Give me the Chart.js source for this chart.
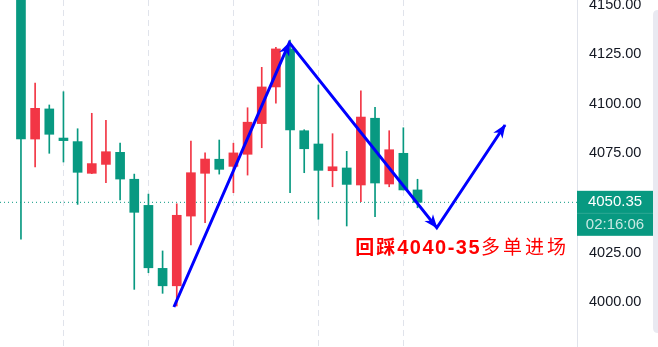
<!DOCTYPE html>
<html>
<head>
<meta charset="utf-8">
<script src="https://cdn.jsdelivr.net/npm/chart.js@4"></script>
<style>
html,body{margin:0;padding:0;background:#fff;}
#wrap{width:658px;height:347px;position:relative;}
</style>
</head>
<body>
<div id="wrap"><canvas id="c"></canvas></div>
<script>
// ---- data ----
const opens  = [4160.0,4082.3,4097.5,4082.8,4081.0,4065.0,4069.5,4075.6,4062.0,4048.8,4017.0,4008.2,4043.4,4065.0,4072.1,4068.5,4074.6,4090.1,4108.6,4127.8,4086.5,4079.8,4066.3,4067.7,4059.1,4092.8,4059.6,4075.1,4056.6];
const highs  = [4165.0,4110.6,4099.5,4106.2,4087.5,4095.3,4091.8,4080.2,4064.6,4054.5,4025.8,4049.6,4081.3,4075.3,4081.8,4080.2,4098.1,4118.5,4128.6,4132.3,4087.0,4109.6,4085.0,4076.1,4106.7,4098.3,4086.5,4088.0,4062.0];
const lows   = [4031.8,4068.2,4075.1,4070.7,4049.3,4064.8,4060.3,4051.5,4006.4,4014.8,4004.4,3998.0,4028.8,4040.1,4064.6,4055.2,4064.1,4077.9,4100.4,4055.2,4065.3,4041.8,4058.2,4038.4,4050.7,4043.1,4058.2,4056.6,4047.6];
const closes = [4082.3,4097.8,4084.7,4081.5,4065.5,4069.9,4075.9,4062.1,4045.3,4017.3,4008.2,4043.8,4065.3,4072.2,4067.0,4075.3,4090.8,4108.6,4127.8,4086.9,4077.4,4066.5,4068.3,4059.4,4093.4,4060.1,4076.9,4056.6,4050.35];
const lastPrice = 4050.35;
const countdown = "02:16:06";
const yTickValues = [4000,4025,4050,4075,4100,4125,4150];
const timeGridIdx = [3,9,15,21,27];
// hand-drawn arrow path (bar index, price)
const arrowX = [10.8, 18.95, 29.36, 34.18];
const arrowY = [3997.5, 4131.0, 4037.5, 4089.4];
const noteParts = ["回踩", "4040-35", "多单进场"];
const noteAt = {x: 23.6, y: 4024.2};

// ---- styles ----
const UP = '#f23645', DOWN = '#089981';
const X_MIN = -1.48, X_MAX = 39.26, Y_MIN = 3977.3, Y_MAX = 4152.5;

const idx = opens.map((_, i) => i);
const candleColor = idx.map(i => closes[i] >= opens[i] ? UP : DOWN);

function zeroPad(s) { s.paddingTop = 0; s.paddingBottom = 0; s.paddingLeft = 0; s.paddingRight = 0; }

const extras = {
  id: 'extras',
  afterDatasetsDraw(chart) {
    const ctx = chart.ctx;
    const xs = chart.scales.x, ys = chart.scales.y;
    // arrowheads
    const meta = chart.getDatasetMeta(2);
    const pts = meta.data;
    ctx.save();
    ctx.fillStyle = '#0000ff';
    for (let i = 1; i < pts.length; i++) {
      const a = pts[i-1], b = pts[i];
      const ang = Math.atan2(b.y - a.y, b.x - a.x);
      const L = 13, W = 5.5;
      ctx.beginPath();
      ctx.moveTo(b.x + Math.cos(ang)*1, b.y + Math.sin(ang)*1);
      ctx.lineTo(b.x - L*Math.cos(ang) + W*Math.sin(ang), b.y - L*Math.sin(ang) - W*Math.cos(ang));
      ctx.lineTo(b.x - (L-4)*Math.cos(ang), b.y - (L-4)*Math.sin(ang));
      ctx.lineTo(b.x - L*Math.cos(ang) - W*Math.sin(ang), b.y - L*Math.sin(ang) + W*Math.cos(ang));
      ctx.closePath();
      ctx.fill();
    }
    // note text
    let tx = xs.getPixelForValue(noteAt.x);
    const ty = ys.getPixelForValue(noteAt.y);
    ctx.fillStyle = '#ff0000';
    ctx.textBaseline = 'alphabetic';
    ctx.textAlign = 'left';
    const fonts = [
      ['bold 19px "Noto Sans CJK SC"', '2px'],
      ['bold 20px "Liberation Sans"', '1.5px'],
      ['19px "Noto Sans CJK SC"', '3px']
    ];
    noteParts.forEach((s, k) => {
      ctx.font = fonts[k][0];
      try { ctx.letterSpacing = fonts[k][1]; } catch(e) {}
      ctx.fillText(s, tx, ty);
      tx += ctx.measureText(s).width;
    });
    try { ctx.letterSpacing = '0px'; } catch(e) {}
    ctx.restore();
  },
  afterDraw(chart) {
    const ctx = chart.ctx;
    const ys = chart.scales.y;
    const ca = chart.chartArea;
    const py = ys.getPixelForValue(lastPrice);
    const left = ca.right, right = chart.width - 5;
    ctx.save();
    // scrollbar-like strip at the far right
    ctx.fillStyle = '#e9e9f1';
    const sx = chart.width - 5, sTop = 10, sBot = chart.height - 14;
    ctx.beginPath();
    ctx.moveTo(sx, sTop + 5);
    ctx.quadraticCurveTo(sx, sTop, sx + 5, sTop);
    ctx.lineTo(chart.width, sTop);
    ctx.lineTo(chart.width, sBot);
    ctx.lineTo(sx + 5, sBot);
    ctx.quadraticCurveTo(sx, sBot, sx, sBot - 5);
    ctx.closePath();
    ctx.fill();
    // price label box
    const top = py - 11.5, h = 45;
    ctx.fillStyle = DOWN;
    ctx.fillRect(left, top, right - left, h);
    ctx.fillStyle = 'rgba(255,255,255,0.15)';
    ctx.fillRect(left, top + 22, right - left, 1);
    ctx.textAlign = 'center';
    ctx.textBaseline = 'middle';
    ctx.font = '15px "Liberation Sans"';
    ctx.fillStyle = '#ffffff';
    ctx.fillText(lastPrice.toFixed(2), (left + right) / 2, top + 11.5);
    ctx.fillStyle = 'rgba(255,255,255,0.78)';
    ctx.fillText(countdown, (left + right) / 2, top + 34);
    ctx.restore();
  }
};

new Chart(document.getElementById('c'), {
  type: 'bar',
  data: {
    datasets: [
      {
        label: 'wick',
        data: idx.map(i => ({x: i, y: [lows[i], highs[i]]})),
        backgroundColor: candleColor,
        barThickness: 1,
        grouped: false,
        order: 2
      },
      {
        label: 'body',
        data: idx.map(i => ({x: i, y: [opens[i], closes[i]]})),
        backgroundColor: candleColor,
        barThickness: 9,
        minBarLength: 1,
        grouped: false,
        order: 1
      },
      {
        type: 'line',
        label: 'arrow',
        data: arrowX.map((x, i) => ({x, y: arrowY[i]})),
        borderColor: '#0000ff',
        borderWidth: 3,
        pointRadius: 0,
        tension: 0,
        order: 0
      },
      {
        type: 'line',
        label: 'price',
        data: [{x: X_MIN, y: lastPrice}, {x: X_MAX, y: lastPrice}],
        borderColor: DOWN,
        borderWidth: 1,
        borderDash: [1, 3],
        pointRadius: 0,
        order: 3
      }
    ]
  },
  options: {
    responsive: true,
    maintainAspectRatio: false,
    animation: false,
    events: [],
    layout: {padding: 0},
    plugins: {legend: {display: false}, tooltip: {enabled: false}},
    scales: {
      x: {
        type: 'linear',
        min: X_MIN, max: X_MAX,
        offset: false,
        afterBuildTicks(s) { s.ticks = timeGridIdx.map(v => ({value: v})); },
        afterFit(s) { s.height = 0; zeroPad(s); },
        ticks: {display: false},
        grid: {display: true, color: '#e0e3eb', lineWidth: 1, drawTicks: false, offset: false},
        border: {display: false, dash: [6, 4]}
      },
      y: {
        position: 'right',
        min: Y_MIN, max: Y_MAX,
        afterBuildTicks(s) { s.ticks = yTickValues.map(v => ({value: v})); },
        afterFit(s) { s.width = 81; zeroPad(s); },
        grid: {display: false, drawTicks: false},
        border: {display: true, color: '#e0e3eb'},
        ticks: {
          padding: 12,
          color: '#131722',
          font: {family: '"Liberation Sans"', size: 14.5},
          callback: v => Number(v).toFixed(2)
        }
      }
    }
  },
  plugins: [extras]
});
</script>
</body>
</html>
